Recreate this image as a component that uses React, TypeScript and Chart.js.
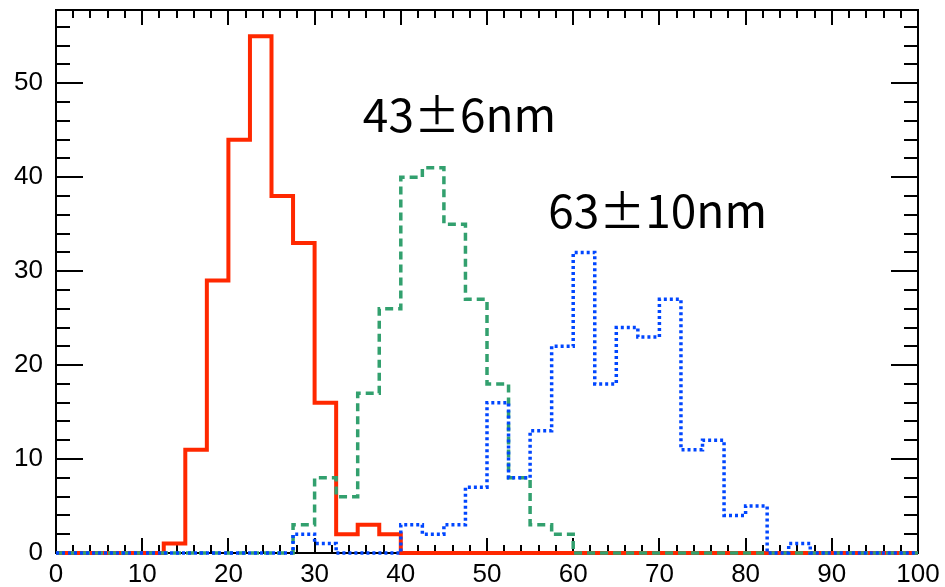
import React, { useEffect, useRef } from "react";
import { Chart, registerables } from "chart.js";

Chart.register(...registerables);

// Histogram bin edges (nm) and counts
const BIN_EDGES = [
  0, 2.5, 5, 7.5, 10, 12.5, 15, 17.5, 20, 22.5, 25, 27.5, 30, 32.5, 35, 37.5, 40,
  42.5, 45, 47.5, 50, 52.5, 55, 57.5, 60, 62.5, 65, 67.5, 70, 72.5, 75, 77.5, 80,
  82.5, 85, 87.5, 90, 92.5, 95, 97.5, 100,
];

const RED_COUNTS = [
  0, 0, 0, 0, 0, 1, 11, 29, 44, 55, 38, 33, 16, 2, 3, 2, 0, 0, 0, 0,
  0, 0, 0, 0, 0, 0, 0, 0, 0, 0, 0, 0, 0, 0, 0, 0, 0, 0, 0, 0,
];

const GREEN_COUNTS = [
  0, 0, 0, 0, 0, 0, 0, 0, 0, 0, 0, 3, 8, 6, 17, 26, 40, 41, 35, 27,
  18, 8, 3, 2, 0, 0, 0, 0, 0, 0, 0, 0, 0, 0, 0, 0, 0, 0, 0, 0,
];

const BLUE_COUNTS = [
  0, 0, 0, 0, 0, 0, 0, 0, 0, 0, 0, 2, 1, 0, 0, 0, 3, 2, 3, 7,
  16, 8, 13, 22, 32, 18, 24, 23, 27, 11, 12, 4, 5, 0, 1, 0, 0, 0, 0, 0,
];

const X_TICKS = [0, 10, 20, 30, 40, 50, 60, 70, 80, 90, 100];
const Y_TICKS = [0, 10, 20, 30, 40, 50];

const X_MIN = 0;
const X_MAX = 100;
const Y_MIN = 0;
const Y_MAX = 57.8;

const ANNOTATIONS = [
  { text: "43±6nm", x: 35.6, y: 44.8 },
  { text: "63±10nm", x: 57.1, y: 34.6 },
];

function toPoints(counts: number[]) {
  // with stepped "before", the segment starting at edge i carries counts[i]
  return BIN_EDGES.map((e, i) => ({ x: e, y: counts[Math.min(i, counts.length - 1)] }));
}

const frameTicks = {
  id: "frameTicks",
  beforeDatasetsDraw(chart: any) {
    const { ctx, chartArea, scales } = chart;
    const { left, right, top, bottom } = chartArea;
    const xs = scales.x;
    const ys = scales.y;
    ctx.save();
    ctx.strokeStyle = "#000";
    ctx.lineWidth = 2;
    ctx.beginPath();
    for (let v = X_MIN; v <= X_MAX + 1e-9; v += 2) {
      const px = Math.round(xs.getPixelForValue(v));
      const len = v % 10 === 0 ? 15 : 8;
      ctx.moveTo(px, bottom);
      ctx.lineTo(px, bottom - len);
      ctx.moveTo(px, top);
      ctx.lineTo(px, top + len);
    }
    for (let v = Y_MIN; v <= Y_MAX + 1e-9; v += 2) {
      const py = Math.round(ys.getPixelForValue(v));
      const len = v % 10 === 0 ? 27 : 14;
      ctx.moveTo(left, py);
      ctx.lineTo(left + len, py);
      ctx.moveTo(right, py);
      ctx.lineTo(right - len, py);
    }
    ctx.stroke();
    ctx.strokeRect(left, top, right - left, bottom - top);
    ctx.restore();
  },
  afterDatasetsDraw(chart: any) {
    const { ctx, scales } = chart;
    ctx.save();
    ctx.fillStyle = "#000";
    ctx.font = '46px "Noto Sans CJK JP"';
    ctx.textBaseline = "alphabetic";
    ctx.textAlign = "left";
    for (const a of ANNOTATIONS) {
      ctx.fillText(a.text, scales.x.getPixelForValue(a.x), scales.y.getPixelForValue(a.y));
    }
    ctx.restore();
  },
};

export default function App() {
  const ref = useRef<HTMLCanvasElement | null>(null);

  useEffect(() => {
    if (!ref.current) return;
    const common = {
      stepped: "before" as const,
      pointRadius: 0,
      fill: false,
      clip: false as any,
      borderCapStyle: "butt" as const,
      borderJoinStyle: "miter" as const,
    };
    const chart = new Chart(ref.current, {
      type: "line",
      data: {
        datasets: [
          {
            ...common,
            data: toPoints(RED_COUNTS),
            borderColor: "rgb(255,40,0)",
            borderWidth: 4,
            order: 3,
          },
          {
            ...common,
            data: toPoints(GREEN_COUNTS),
            borderColor: "rgb(50,160,110)",
            borderWidth: 3.5,
            borderDash: [8, 5],
            order: 2,
          },
          {
            ...common,
            data: toPoints(BLUE_COUNTS),
            borderColor: "rgb(0,70,255)",
            borderWidth: 3.5,
            borderDash: [3, 3],
            order: 1,
          },
        ],
      },
      options: {
        animation: false,
        responsive: false,
        maintainAspectRatio: false,
        layout: { padding: { top: 10, right: 27, left: 0, bottom: 0 } },
        plugins: { legend: { display: false }, tooltip: { enabled: false } },
        scales: {
          x: {
            type: "linear",
            min: X_MIN,
            max: X_MAX,
            grid: { display: false, drawTicks: false },
            border: { display: false },
            ticks: {
              color: "#000",
              font: { family: '"Liberation Sans", Arial', size: 26 },
              padding: 6,
              maxRotation: 0,
              autoSkip: false,
            },
            afterBuildTicks: (s: any) => {
              s.ticks = X_TICKS.map((v) => ({ value: v }));
            },
            afterFit: (s: any) => {
              s.height = 34;
              s.paddingLeft = 0;
              s.paddingRight = 0;
            },
          },
          y: {
            type: "linear",
            min: Y_MIN,
            max: Y_MAX,
            grid: { display: false, drawTicks: false },
            border: { display: false },
            ticks: {
              color: "#000",
              font: { family: '"Liberation Sans", Arial', size: 26 },
              padding: 13,
              autoSkip: false,
            },
            afterBuildTicks: (s: any) => {
              s.ticks = Y_TICKS.map((v) => ({ value: v }));
            },
            afterFit: (s: any) => {
              s.width = 56;
              s.paddingTop = 0;
              s.paddingBottom = 0;
            },
          },
        },
      },
      plugins: [frameTicks],
    });
    return () => chart.destroy();
  }, []);

  return (
    <div style={{ position: "fixed", left: 0, top: 0, width: 945, height: 587, background: "#fff" }}>
      <canvas ref={ref} width={945} height={587} style={{ width: 945, height: 587, display: "block" }} />
    </div>
  );
}
